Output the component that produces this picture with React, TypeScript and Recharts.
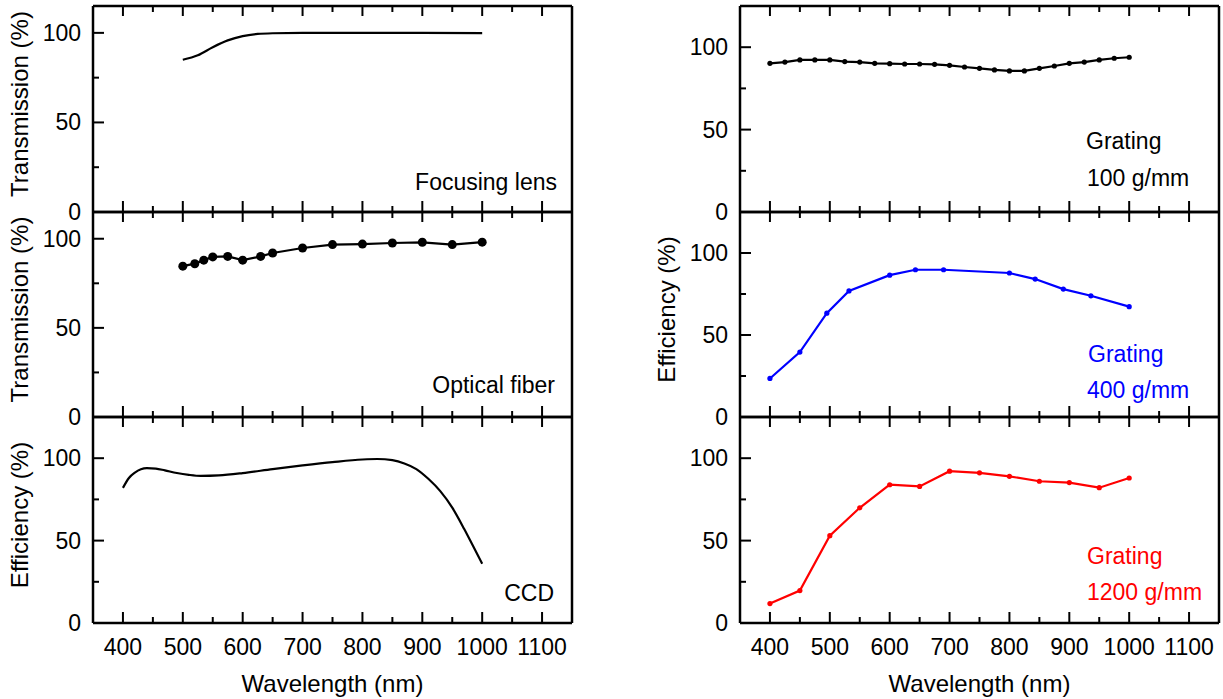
import { LineChart, Line, XAxis, YAxis } from "recharts";

// axis ticks
const xTicks = [400, 450, 500, 550, 600, 650, 700, 750, 800, 850, 900, 950, 1000, 1050, 1100];
const yTicks = [0, 25, 50, 75, 100];

// focusing lens
const lensWl = [500, 525, 550, 575, 600, 625, 650, 700, 800, 900, 1000];
const lensT = [85, 87.5, 92, 95.8, 98.2, 99.4, 99.8, 100, 100, 100, 99.9];

// optical fiber
const fiberWl = [500, 520, 535, 550, 575, 600, 630, 650, 700, 750, 800, 850, 900, 950, 1000];
const fiberT = [84.6, 86, 88, 89.8, 90.1, 88, 90.1, 92, 94.8, 96.7, 97, 97.6, 98, 96.7, 98.1];

// CCD
const ccdWl = [400, 410, 420, 430, 440, 455, 470, 490, 510, 530, 560, 600, 650, 700, 750, 800, 825, 850, 870, 890, 910, 930, 950, 970, 985, 1000];
const ccdE = [82, 88, 91.3, 93.3, 94, 93.7, 92.6, 91, 89.9, 89.3, 89.6, 91, 93.4, 95.6, 97.6, 99.2, 99.5, 98.8, 96.8, 93.4, 87.5, 80, 70, 57, 46.5, 36];

// grating 100 g/mm
const g100Wl = [400, 425, 450, 475, 500, 525, 550, 575, 600, 625, 650, 675, 700, 725, 750, 775, 800, 825, 850, 875, 900, 925, 950, 975, 1000];
const g100E = [90.2, 91, 92.3, 92.3, 92.3, 91.3, 91, 90.2, 90, 89.8, 89.8, 89.6, 89, 88, 87.2, 86.2, 85.6, 85.6, 87.2, 88.6, 90.2, 91, 92.3, 93.3, 93.9];

// grating 400 g/mm
const g400Wl = [400, 450, 495, 532, 600, 643, 690, 800, 843, 890, 936, 1000];
const g400E = [23.5, 39.6, 63.3, 76.9, 86.5, 89.8, 89.8, 87.8, 84.1, 78, 73.9, 67.3];

// grating 1200 g/mm
const g1200Wl = [400, 450, 500, 550, 600, 650, 700, 750, 800, 850, 900, 950, 1000];
const g1200E = [11.8, 19.7, 53, 69.9, 83.9, 82.9, 92.1, 91.1, 89, 86, 85.2, 82.1, 88];

const zip = (xs: number[], ys: number[]) => xs.map((x, i) => ({ x, y: ys[i] }));

const FONT = '"Liberation Sans", Arial, Helvetica, sans-serif';
const ML = 93;
const MT = 6;
const PW = 479;

type Note = { text: string; x: number; dy: number; anchor: "start" | "end" };

type PanelProps = {
  left: number;
  top: number;
  bottom: number;
  yMax: number;
  data: { x: number; y: number }[];
  color: string;
  dotR: number;
  smooth?: boolean;
  yTitle?: string;
  xTitle?: string;
  notes: Note[];
};

function Panel(p: PanelProps) {
  const PH = p.bottom - p.top;
  const mb = p.xTitle ? 76 : 20;
  const W = ML + PW + 4;
  const H = MT + PH + mb;

  const bottomTick = (t: any) => {
    const major = t.payload.value % 100 === 0;
    return (
      <g>
        <line x1={t.x} x2={t.x} y1={t.y} y2={t.y - (major ? 11 : 6)} stroke="#000" strokeWidth={2} />
        {p.xTitle && major ? (
          <text x={t.x} y={t.y + 32} textAnchor="middle" fontSize={23} fontFamily={FONT} fill="#000">
            {t.payload.value}
          </text>
        ) : null}
      </g>
    );
  };
  const topTick = (t: any) => {
    const major = t.payload.value % 100 === 0;
    return <line x1={t.x} x2={t.x} y1={t.y} y2={t.y + (major ? 10 : 6)} stroke="#000" strokeWidth={2} />;
  };
  const leftTick = (t: any) => {
    const major = t.payload.value % 50 === 0;
    return (
      <g>
        <line x1={t.x} x2={t.x + (major ? 11 : 6)} y1={t.y} y2={t.y} stroke="#000" strokeWidth={2} />
        {major ? (
          <text x={t.x - 12} y={t.y + 8} textAnchor="end" fontSize={23} fontFamily={FONT} fill="#000">
            {t.payload.value}
          </text>
        ) : null}
      </g>
    );
  };
  const rightTick = (t: any) => {
    const major = t.payload.value % 50 === 0;
    return <line x1={t.x} x2={t.x - (major ? 10 : 6)} y1={t.y} y2={t.y} stroke="#000" strokeWidth={2} />;
  };

  const yTitle = () => {
    if (!p.yTitle) return null;
    const cx = ML - 65;
    const cy = MT + PH / 2 - 5;
    return (
      <text x={cx} y={cy} transform={`rotate(-90 ${cx} ${cy})`} textAnchor="middle" fontSize={24} fontFamily={FONT} fill="#000">
        {p.yTitle}
      </text>
    );
  };
  const xTitle = () => {
    if (!p.xTitle) return null;
    return (
      <text x={ML + PW / 2} y={MT + PH + 69} textAnchor="middle" fontSize={24} fontFamily={FONT} fill="#000">
        {p.xTitle}
      </text>
    );
  };
  const notes = () => (
    <g>
      {p.notes.map((n, i) => (
        <text key={i} x={ML + n.x} y={MT + PH + n.dy} textAnchor={n.anchor} fontSize={23} fontFamily={FONT} fill={p.color}>
          {n.text}
        </text>
      ))}
    </g>
  );

  const axisLine = { stroke: "#000", strokeWidth: 2.5 };

  return (
    <div style={{ position: "absolute", left: p.left - ML, top: p.top - MT }}>
      <LineChart width={W} height={H} data={p.data} margin={{ top: MT - 1, right: 3, bottom: mb - 1, left: ML - 1 }}>
        <XAxis
          dataKey="x"
          type="number"
          domain={[350, 1150]}
          ticks={xTicks}
          interval={0}
          height={1}
          tickSize={0}
          tickMargin={0}
          tickLine={false}
          tick={bottomTick}
          axisLine={axisLine}
          label={xTitle}
        />
        <XAxis
          xAxisId="top"
          orientation="top"
          dataKey="x"
          type="number"
          domain={[350, 1150]}
          ticks={xTicks}
          interval={0}
          height={1}
          tickSize={0}
          tickMargin={0}
          tickLine={false}
          tick={topTick}
          axisLine={axisLine}
        />
        <YAxis
          yAxisId="left"
          type="number"
          domain={[0, p.yMax]}
          ticks={yTicks}
          interval={0}
          width={1}
          tickSize={0}
          tickMargin={0}
          tickLine={false}
          tick={leftTick}
          axisLine={axisLine}
          label={yTitle}
        />
        <YAxis
          yAxisId="right"
          orientation="right"
          type="number"
          domain={[0, p.yMax]}
          ticks={yTicks}
          interval={0}
          width={1}
          tickSize={0}
          tickMargin={0}
          tickLine={false}
          tick={rightTick}
          axisLine={axisLine}
          label={notes}
        />
        <Line
          yAxisId="left"
          dataKey="y"
          type={p.smooth ? "monotone" : "linear"}
          stroke={p.color}
          strokeWidth={2.2}
          dot={p.dotR > 0 ? { r: p.dotR, fill: p.color, stroke: p.color, strokeWidth: 0 } : false}
          activeDot={false}
          isAnimationActive={false}
        />
      </LineChart>
    </div>
  );
}

export default function App() {
  return (
    <div style={{ position: "absolute", left: 0, top: 0, width: 1223, height: 699, background: "#fff", fontFamily: FONT }}>
      <Panel
        left={93} top={6} bottom={212} yMax={115}
        data={zip(lensWl, lensT)} color="#000" dotR={0} smooth
        yTitle="Transmission (%)"
        notes={[{ text: "Focusing lens", x: 464, dy: -22, anchor: "end" }]}
      />
      <Panel
        left={93} top={212} bottom={417} yMax={115}
        data={zip(fiberWl, fiberT)} color="#000" dotR={4.5}
        yTitle="Transmission (%)"
        notes={[{ text: "Optical fiber", x: 462, dy: -24, anchor: "end" }]}
      />
      <Panel
        left={93} top={417} bottom={623} yMax={125}
        data={zip(ccdWl, ccdE)} color="#000" dotR={0} smooth
        yTitle="Efficiency (%)" xTitle="Wavelength (nm)"
        notes={[{ text: "CCD", x: 461, dy: -22, anchor: "end" }]}
      />
      <Panel
        left={740} top={6} bottom={212} yMax={125}
        data={zip(g100Wl, g100E)} color="#000" dotR={2.6}
        notes={[
          { text: "Grating", x: 346, dy: -63, anchor: "start" },
          { text: "100 g/mm", x: 347, dy: -26, anchor: "start" },
        ]}
      />
      <Panel
        left={740} top={212} bottom={417} yMax={125}
        data={zip(g400Wl, g400E)} color="#0000ff" dotR={2.6}
        yTitle="Efficiency (%)"
        notes={[
          { text: "Grating", x: 348, dy: -55, anchor: "start" },
          { text: "400 g/mm", x: 347, dy: -19, anchor: "start" },
        ]}
      />
      <Panel
        left={740} top={417} bottom={623} yMax={125}
        data={zip(g1200Wl, g1200E)} color="#ff0000" dotR={2.6}
        xTitle="Wavelength (nm)"
        notes={[
          { text: "Grating", x: 347, dy: -59, anchor: "start" },
          { text: "1200 g/mm", x: 347, dy: -23, anchor: "start" },
        ]}
      />
    </div>
  );
}
